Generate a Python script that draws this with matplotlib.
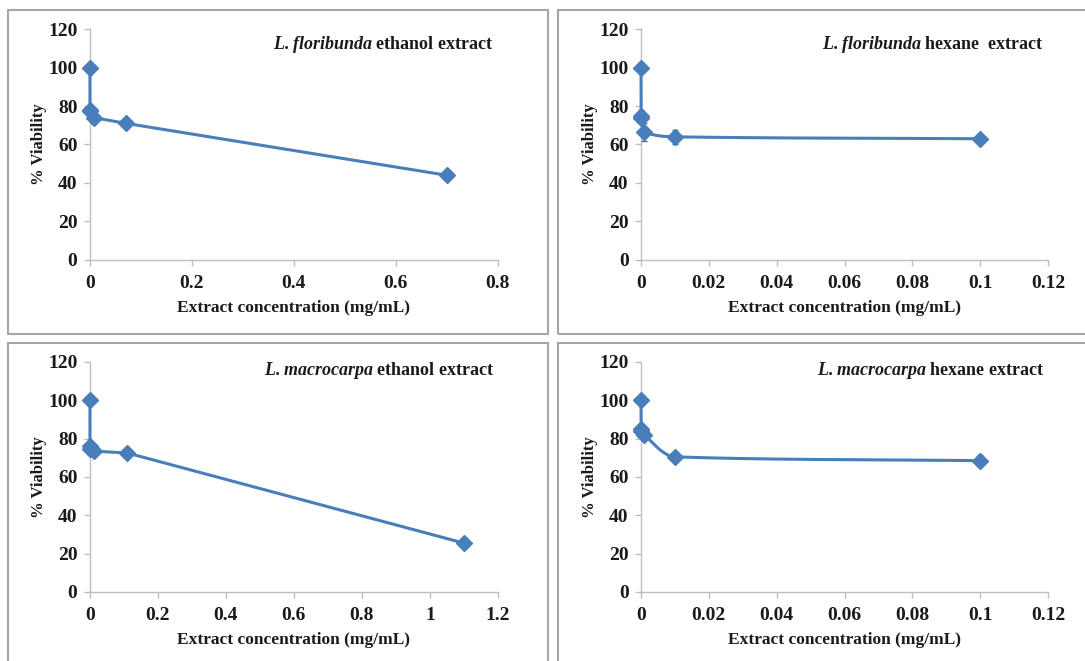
import numpy as np
import matplotlib
matplotlib.use('Agg')
import matplotlib.pyplot as plt
from matplotlib.patches import Rectangle

# data (10-fold dilution series, first point = control)
x_flor_eth = [0, 0.00007, 0.0007, 0.007, 0.07, 0.7]
y_flor_eth = [100, 78, 77.5, 74, 71, 44]
e_flor_eth = [0, 1.5, 1.5, 3, 1.5, 2.5]

x_flor_hex = [0, 0.00001, 0.0001, 0.001, 0.01, 0.1]
y_flor_hex = [100, 75, 74, 66.5, 64, 63]
e_flor_hex = [0, 3, 2, 4.5, 3.5, 1]

x_macr_eth = [0, 0.00011, 0.0011, 0.011, 0.11, 1.1]
y_macr_eth = [100, 76, 74.5, 73.5, 72.5, 25.5]
e_macr_eth = [0, 1.5, 1.5, 1.5, 1, 1]

x_macr_hex = [0, 0.00001, 0.0001, 0.001, 0.01, 0.1]
y_macr_hex = [100, 85, 84, 82, 70.5, 68.5]
e_macr_hex = [0, 1.5, 1.5, 1.5, 1, 3]

titles = [("L.floribunda", "ethanol extract"),
          ("L.floribunda", "hexane  extract"),
          ("L.macrocarpa", "ethanol extract"),
          ("L.macrocarpa", "hexane extract")]
xticks_sets = [[0, 0.2, 0.4, 0.6, 0.8],
               [0, 0.02, 0.04, 0.06, 0.08, 0.1, 0.12],
               [0, 0.2, 0.4, 0.6, 0.8, 1, 1.2],
               [0, 0.02, 0.04, 0.06, 0.08, 0.1, 0.12]]
yticks = [0, 20, 40, 60, 80, 100, 120]
xlabel = "Extract concentration (mg/mL)"

plt.rcParams['font.family'] = 'Liberation Serif'
plt.rcParams['font.weight'] = 'bold'
plt.rcParams['mathtext.fontset'] = 'custom'
plt.rcParams['mathtext.bfit'] = 'Liberation Serif:italic:bold'

blue = '#4a7ebb'
grey = '#bfbfbf'
txt = '#1a1a1a'


def smooth(xs, ys, n=60):
    # monotone cubic through the points, to look like Excel's smoothed line
    x = np.asarray(xs, float); y = np.asarray(ys, float)
    h = np.diff(x); d = np.diff(y) / h
    m = np.zeros(len(x))
    m[0], m[-1] = d[0], d[-1]
    for k in range(1, len(x) - 1):
        if d[k - 1] * d[k] > 0:
            w1 = 2 * h[k] + h[k - 1]
            w2 = h[k] + 2 * h[k - 1]
            m[k] = (w1 + w2) / (w1 / d[k - 1] + w2 / d[k])
    ox, oy = [], []
    for k in range(len(x) - 1):
        t = np.linspace(0, 1, n)
        h00 = 2 * t**3 - 3 * t**2 + 1
        h10 = t**3 - 2 * t**2 + t
        h01 = -2 * t**3 + 3 * t**2
        h11 = t**3 - t**2
        ox.extend(x[k] + t * h[k])
        oy.extend(h00 * y[k] + h10 * h[k] * m[k] + h01 * y[k + 1] + h11 * h[k] * m[k + 1])
    return ox, oy


fig = plt.figure(figsize=(10.85, 6.61), dpi=100)

# panel frames
for (x0, y0, w, h) in [(8, 10, 540, 324), (558, 10, 540, 324),
                       (8, 343, 540, 330), (558, 343, 540, 330)]:
    fig.patches.append(Rectangle((x0 / 1085, 1 - (y0 + h) / 661), w / 1085, h / 661,
                                 transform=fig.transFigure, fill=False,
                                 edgecolor='#a6a6a6', linewidth=1.5))

positions = [[0.0829, 0.6067, 0.376, 0.3494],
             [0.5908, 0.6067, 0.3751, 0.3494],
             [0.0829, 0.1044, 0.376, 0.348],
             [0.5908, 0.1044, 0.3751, 0.348]]
series = [(x_flor_eth, y_flor_eth, e_flor_eth, False),
          (x_flor_hex, y_flor_hex, e_flor_hex, True),
          (x_macr_eth, y_macr_eth, e_macr_eth, False),
          (x_macr_hex, y_macr_hex, e_macr_hex, True)]
title_y = [0.935, 0.935, 0.965, 0.965]

for i in range(4):
    ax = fig.add_axes(positions[i])
    xs, ys, es, sm = series[i]
    xt = xticks_sets[i]
    if sm:
        lx, ly = smooth(xs, ys)
        ax.plot(lx, ly, color=blue, lw=2.2, clip_on=False, zorder=3)
    else:
        ax.plot(xs, ys, color=blue, lw=2.2, clip_on=False, zorder=3)
    ax.errorbar(xs, ys, yerr=es, fmt='D', color=blue, ms=8, capsize=2,
                elinewidth=1, ecolor='#3a6aa5', clip_on=False, zorder=4)
    ax.set_xlim(0, xt[-1])
    ax.set_ylim(0, 120)
    ax.set_xticks(xt)
    ax.set_xticklabels([('%g' % v) for v in xt])
    ax.set_yticks(yticks)
    for s in ['top', 'right']:
        ax.spines[s].set_visible(False)
    for s in ['left', 'bottom']:
        ax.spines[s].set_color(grey)
        ax.spines[s].set_linewidth(1)
    ax.tick_params(axis='both', colors=grey, labelcolor=txt, labelsize=14,
                   length=4, width=1, direction='out')
    ax.tick_params(axis='x', pad=7)
    ax.tick_params(axis='y', pad=5)
    ax.set_xlabel(xlabel, fontsize=12.5, fontweight='bold', color=txt)
    ax.xaxis.set_label_coords(0.5, -0.175)
    ax.set_ylabel('% Viability', fontsize=12, fontweight='bold', color=txt)
    ax.yaxis.set_label_coords(-0.105, 0.5)
    sp, rest = titles[i]
    ax.text(0.99, title_y[i], r"$\mathbfit{" + sp + "}$ " + rest, transform=ax.transAxes,
            ha='right', va='center', fontsize=13, fontweight='bold', color=txt)

fig.savefig('out.png', dpi=100)
